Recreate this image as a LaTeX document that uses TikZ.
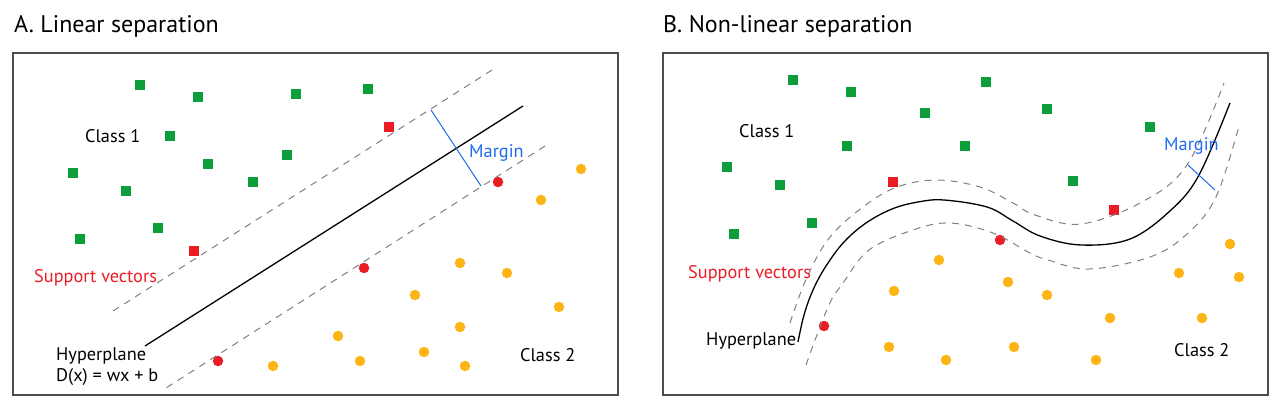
\documentclass[tikz,border=0pt]{standalone}
\usepackage{fontspec}
\setmainfont{PT Sans}
\definecolor{svm-green}{HTML}{0B9E3A}
\definecolor{svm-red}{HTML}{EC1C24}
\definecolor{svm-orange}{HTML}{FDB515}
\definecolor{svm-blue}{HTML}{1F6BEF}
\colorlet{frameline}{black!70}
\colorlet{marginline}{black!50}
\tikzset{
  sqpt/.style={fill=#1, minimum size=10pt, inner sep=0pt},
  dotpt/.style={circle, fill=#1, minimum size=10.5pt, inner sep=0pt},
  panel/.style={draw=frameline, line width=1.2pt},
  hyper/.style={line width=1.3pt},
  sidecurve/.style={draw=marginline, line width=1pt, dash pattern=on 7pt off 6pt},
  ttl/.style={font=\fontsize{24}{28}\selectfont, anchor=base west, inner sep=0pt},
  lbl/.style={font=\fontsize{18.3}{22}\selectfont, anchor=base west, inner sep=0pt},
}

\begin{document}
\begin{tikzpicture}[x=1pt, y=-1pt]
\useasboundingbox (0,0) rectangle (1280,414);
% panels
\draw[panel] (13,53) rectangle (618,395);
\draw[panel] (663,53) rectangle (1268,395);
\node[ttl] (ttlA) at (14,33) {A. Linear separation};
\node[ttl] (ttlB) at (663,33) {B. Non-linear separation};

%% A. linear separation
% class 1
\foreach \x/\y [count=\i] in {140/85,198/97,296/94,368/89,170/136,287/155,208/164,73/173,253/182,126/191,158/228,80/239} {
  \node[sqpt=svm-green] (gA\i) at (\x,\y) {};
}
% class 2
\foreach \x/\y [count=\i] in {581/169,541/200,460/263,507/273,415/295,559/307,460/327,338/336,424/352,360/361,273/366,465/366} {
  \node[dotpt=svm-orange] (oA\i) at (\x,\y) {};
}
% support vectors
\node[sqpt=svm-red] (sA1) at (389,127) {};
\node[sqpt=svm-red] (sA2) at (194,251) {};
\node[dotpt=svm-red] (sA3) at (498,182) {};
\node[dotpt=svm-red] (sA4) at (364,268) {};
\node[dotpt=svm-red] (sA5) at (218,361) {};
% hyperplane and margins
\coordinate (hA1) at (523,106);
\coordinate (hA2) at (145,346);
\coordinate (uA1) at (492,70);
\coordinate (uA2) at (113,311);
\coordinate (lA1) at (545,146);
\coordinate (lA2) at (166,388);
\draw[hyper] (hA1) -- (hA2);
\draw[sidecurve] (uA1) -- (uA2);
\draw[sidecurve] (lA1) -- (lA2);
\coordinate (mA1) at (431,110);
\coordinate (mA2) at (481,186);
\draw[svm-blue, line width=1pt] (mA1) -- (mA2);
% labels
\node[lbl] (c1A) at (85,143) {Class 1};
\node[lbl] (c2A) at (520,361) {Class 2};
\node[lbl, text=svm-blue] (mgA) at (469,158) {Margin};
\node[lbl, text=svm-red] (svA) at (34,283) {Support vectors};
\node[lbl] (hpA) at (56,360) {Hyperplane};
\node[lbl] (eqA) at ([yshift=-21pt]hpA.base west) {D(x) = wx + b};

%% B. non-linear separation
% class 1
\foreach \x/\y [count=\i] in {793/80,851/92,986/82,925/113,1047/109,1150/127,847/146,965/146,727/167,780/185,1073/181,812/223,734/234} {
  \node[sqpt=svm-green] (gB\i) at (\x,\y) {};
}
% class 2
\foreach \x/\y [count=\i] in {939/260,894/291,1008/282,1047/295,1230/244,1179/273,1239/277,1110/318,1202/318,889/347,946/360,1014/347,1096/360} {
  \node[dotpt=svm-orange] (oB\i) at (\x,\y) {};
}
% support vectors
\node[sqpt=svm-red] (sB1) at (893,182) {};
\node[sqpt=svm-red] (sB2) at (1114,210) {};
\node[dotpt=svm-red] (sB3) at (1000,240) {};
\node[dotpt=svm-red] (sB4) at (824,326) {};
% hyperplane and margins
\draw[hyper] plot[smooth, tension=0.6] coordinates {(798,342) (804,315) (813,290) (826,266) (844,242) (866,223) (892,209) (918,202) (944,200) (987,207) (1013,221) (1040,236) (1081,245) (1130,239) (1171,210) (1199,175) (1230,103)};
\draw[sidecurve] plot[smooth, tension=0.6] coordinates {(790,323) (807,277) (830,237) (863,207) (897,187) (937,180) (980,187) (1013,203) (1035,215) (1081,224) (1142,202) (1187,165) (1224,83)};
\draw[sidecurve] plot[smooth, tension=0.6] coordinates {(806,365) (828,307) (843,283) (869,250) (913,230) (950,223) (993,233) (1030,253) (1048,260) (1089,269) (1150,257) (1187,234) (1216,197) (1239,126)};
\coordinate (mB1) at (1188,165);
\coordinate (mB2) at (1215,190);
\draw[svm-blue, line width=1pt] (mB1) -- (mB2);
% labels
\node[lbl] (c1B) at (739,138) {Class 1};
\node[lbl] (c2B) at (1174,356) {Class 2};
\node[lbl, text=svm-blue] (mgB) at (1164,151) {Margin};
\node[lbl, text=svm-red] (svB) at (688,278) {Support vectors};
\node[lbl] (hpB) at (706,345) {Hyperplane};
\end{tikzpicture}
\end{document}
